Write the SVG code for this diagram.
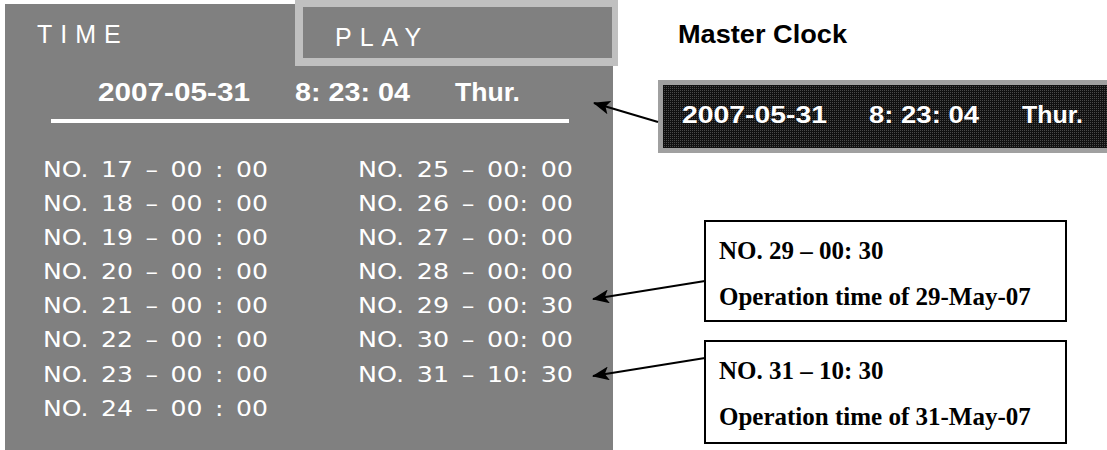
<svg xmlns="http://www.w3.org/2000/svg" width="1107" height="450" viewBox="0 0 1107 450">
<defs>
<style>
.lbl{font-family:"Liberation Sans",Arial,sans-serif;fill:#fff}
.hdr{font-size:25px;letter-spacing:8px}
.date{font-family:"Liberation Sans",Arial,sans-serif;font-weight:bold;font-size:26px;fill:#fff}
.row{font-family:"DejaVu Sans","Liberation Sans",sans-serif;font-size:22px;word-spacing:4px;fill:#fff}
.mc{font-family:"Liberation Sans",Arial,sans-serif;font-weight:bold;font-size:26px;fill:#000}
.clk{font-family:"Liberation Sans",Arial,sans-serif;font-weight:bold;font-size:24px;fill:#fff}
.call{fill:#fff;stroke:#000;stroke-width:2}
.ct{font-family:"Liberation Serif","Times New Roman",serif;font-weight:bold;font-size:25px;fill:#000}
.conn{stroke:#000;stroke-width:2;fill:none;marker-end:url(#ah)}
</style>
<marker id="ah" markerWidth="18" markerHeight="14" refX="16" refY="7" orient="auto" markerUnits="userSpaceOnUse">
<path d="M0,0 L17,7 L0,14 L4,7 Z" fill="#000"/>
</marker>
<pattern id="dots" width="2" height="2" patternUnits="userSpaceOnUse">
<rect width="2" height="2" fill="#111"/>
<rect width="1" height="1" fill="#4a4a4a"/>
</pattern>
</defs>
<rect width="1107" height="450" fill="#fff"/>

<g id="panel">
<rect x="5" y="4" width="608" height="446" fill="#808080"/>
<text class="lbl hdr" x="37" y="43">TIME</text>
</g>

<g id="play">
<rect x="295" y="0" width="323" height="66" fill="#c0c0c0"/>
<rect x="303" y="7" width="309" height="51" fill="#808080"/>
<text class="lbl hdr" x="335" y="46">PLAY</text>
</g>

<g id="panel-date">
<text class="date" x="98" y="101" textLength="152" lengthAdjust="spacingAndGlyphs">2007-05-31</text>
<text class="date" x="295" y="101" textLength="115" lengthAdjust="spacingAndGlyphs">8: 23: 04</text>
<text class="date" x="455" y="101" textLength="65" lengthAdjust="spacingAndGlyphs">Thur.</text>
<rect x="51" y="119" width="518" height="4" fill="#fff"/>
</g>

<g id="list-left">
<text class="row" x="43" y="177" textLength="225" lengthAdjust="spacingAndGlyphs">NO. 17 – 00 : 00</text>
<text class="row" x="43" y="211" textLength="225" lengthAdjust="spacingAndGlyphs">NO. 18 – 00 : 00</text>
<text class="row" x="43" y="245" textLength="225" lengthAdjust="spacingAndGlyphs">NO. 19 – 00 : 00</text>
<text class="row" x="43" y="279" textLength="225" lengthAdjust="spacingAndGlyphs">NO. 20 – 00 : 00</text>
<text class="row" x="43" y="313" textLength="225" lengthAdjust="spacingAndGlyphs">NO. 21 – 00 : 00</text>
<text class="row" x="43" y="347" textLength="225" lengthAdjust="spacingAndGlyphs">NO. 22 – 00 : 00</text>
<text class="row" x="43" y="382" textLength="225" lengthAdjust="spacingAndGlyphs">NO. 23 – 00 : 00</text>
<text class="row" x="43" y="416" textLength="225" lengthAdjust="spacingAndGlyphs">NO. 24 – 00 : 00</text>
</g>

<g id="list-right">
<text class="row" x="358" y="177" textLength="215" lengthAdjust="spacingAndGlyphs">NO. 25 – 00: 00</text>
<text class="row" x="358" y="211" textLength="215" lengthAdjust="spacingAndGlyphs">NO. 26 – 00: 00</text>
<text class="row" x="358" y="245" textLength="215" lengthAdjust="spacingAndGlyphs">NO. 27 – 00: 00</text>
<text class="row" x="358" y="279" textLength="215" lengthAdjust="spacingAndGlyphs">NO. 28 – 00: 00</text>
<text class="row" x="358" y="313" textLength="215" lengthAdjust="spacingAndGlyphs">NO. 29 – 00: 30</text>
<text class="row" x="358" y="347" textLength="215" lengthAdjust="spacingAndGlyphs">NO. 30 – 00: 00</text>
<text class="row" x="358" y="382" textLength="215" lengthAdjust="spacingAndGlyphs">NO. 31 – 10: 30</text>
</g>

<g id="master-clock">
<text class="mc" x="678" y="43" textLength="169" lengthAdjust="spacingAndGlyphs">Master Clock</text>
<rect x="658" y="80" width="460" height="73" fill="#a0a0a0"/>
<rect x="663" y="85" width="450" height="63" fill="url(#dots)"/>
<text class="clk" x="682" y="123" textLength="145" lengthAdjust="spacingAndGlyphs">2007-05-31</text>
<text class="clk" x="869" y="123" textLength="110" lengthAdjust="spacingAndGlyphs">8: 23: 04</text>
<text class="clk" x="1022" y="123" textLength="61" lengthAdjust="spacingAndGlyphs">Thur.</text>
</g>

<g id="callout-29">
<rect class="call" x="705" y="221" width="361" height="100"/>
<text class="ct" x="719" y="259">NO. 29 – 00: 30</text>
<text class="ct" x="719" y="305">Operation time of 29-May-07</text>
</g>

<g id="callout-31">
<rect class="call" x="705" y="341" width="361" height="102"/>
<text class="ct" x="719" y="379">NO. 31 – 10: 30</text>
<text class="ct" x="719" y="425">Operation time of 31-May-07</text>
</g>

<g id="connectors">
<line class="conn" x1="658" y1="122" x2="594" y2="103"/>
<line class="conn" x1="705" y1="281" x2="593" y2="299"/>
<line class="conn" x1="705" y1="358" x2="593" y2="376"/>
</g>
</svg>
